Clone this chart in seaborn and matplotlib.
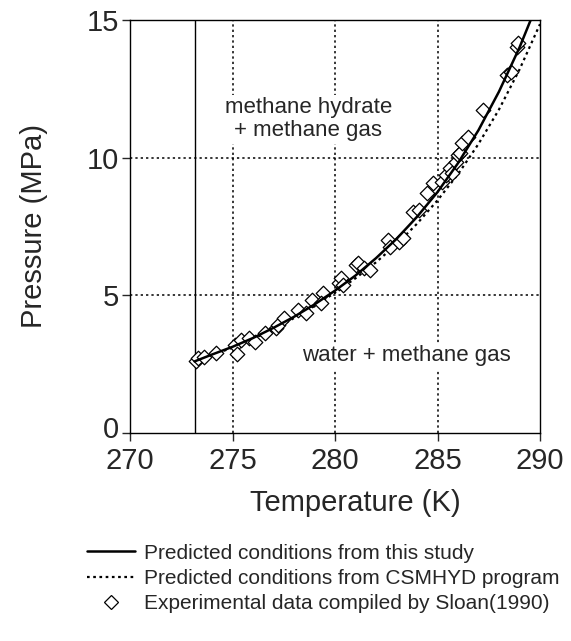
import numpy as np
import pandas as pd
import matplotlib
matplotlib.use("Agg")
import matplotlib.pyplot as plt
import matplotlib.transforms as mtransforms
import seaborn as sns
from matplotlib.lines import Line2D

# ---- data ----
study_T = [273.15, 274, 275, 276, 277, 278, 279, 280, 281, 282, 283, 284, 285, 286, 287, 288, 289, 289.6]
study_P = [2.60, 2.85, 3.13, 3.45, 3.82, 4.22, 4.67, 5.17, 5.72, 6.35, 7.05, 7.85, 8.75, 9.80, 11.0, 12.4, 14.0, 15.1]

csm_T = [273.15, 275, 277, 279, 280, 281, 282, 283, 284, 285, 286, 287, 288, 289, 290]
csm_P = [2.60, 3.10, 3.75, 4.60, 5.10, 5.62, 6.20, 6.85, 7.60, 8.45, 9.40, 10.5, 11.75, 13.2, 14.85]

exp_T = [273.2, 273.3, 273.6, 274.2, 275.1, 275.2, 275.4, 275.8, 276.1, 276.6, 277.1, 277.2,
         277.5, 278.2, 278.6, 278.9, 279.4, 279.3, 280.2, 280.3, 280.4, 281.0, 281.1, 281.4,
         281.7, 282.6, 282.7, 283.1, 283.3, 283.8, 284.1, 284.5, 284.8, 285.2, 285.4, 285.6,
         285.7, 285.9, 286.0, 286.1, 286.2, 286.5, 287.2, 288.4, 288.6, 288.9, 288.95]
exp_P = [2.60, 2.72, 2.76, 2.91, 3.20, 2.88, 3.38, 3.45, 3.31, 3.63, 3.81, 3.92,
         4.18, 4.47, 4.36, 4.83, 5.09, 4.72, 5.45, 5.63, 5.38, 6.10, 6.18, 5.99,
         5.92, 7.01, 6.76, 6.94, 7.08, 8.03, 8.10, 8.72, 9.08, 9.12, 9.37, 9.63,
         9.44, 9.84, 10.10, 10.17, 10.53, 10.75, 11.73, 13.00, 13.11, 14.02, 14.17]

x_ticks = [270, 275, 280, 285, 290]
y_ticks = [0, 5, 10, 15]
legend_labels = ["Predicted conditions from this study",
                 "Predicted conditions from CSMHYD program",
                 "Experimental data compiled by Sloan(1990)"]

study = pd.DataFrame({"T": study_T, "P": study_P})
csm = pd.DataFrame({"T": csm_T, "P": csm_P})
exp = pd.DataFrame({"T": exp_T, "P": exp_P})

sns.set_style("ticks")
plt.rcParams["font.family"] = ["Liberation Sans", "DejaVu Sans"]

fig = plt.figure(figsize=(5.71, 6.41), dpi=100)
ax = fig.add_axes([0.2277, 0.3245, 0.718, 0.6443])

# grid
for xv in [275, 280, 285]:
    ax.axvline(xv, color="black", lw=1.1, ls=(0, (1.5, 2)), zorder=0)
for yv in [5, 10]:
    ax.axhline(yv, color="black", lw=1.1, ls=(0, (1.5, 2)), zorder=0)
# ice point
ax.axvline(273.15, color="black", lw=1.0, zorder=1)

sns.lineplot(data=csm, x="T", y="P", ax=ax, color="black", lw=1.6,
             linestyle=(0, (1.2, 1.6)), zorder=2, sort=False)
sns.scatterplot(data=exp, x="T", y="P", ax=ax, marker="D", s=55,
                facecolor="white", edgecolor="black", linewidth=0.9, zorder=3)
sns.lineplot(data=study, x="T", y="P", ax=ax, color="black", lw=1.8, zorder=4, sort=False)

ax.text(278.7, 11.4, "methane hydrate\n+ methane gas", ha="center", va="center",
        fontsize=16, linespacing=1.1,
        bbox=dict(facecolor="white", edgecolor="none", pad=2), zorder=1.5)
ax.text(283.5, 2.8, "water + methane gas", ha="center", va="center", fontsize=16,
        bbox=dict(facecolor="white", edgecolor="none", pad=2), zorder=1.5)

ax.set_xlim(270, 290)
ax.set_ylim(0, 15)
ax.set_xticks(x_ticks)
ax.set_yticks(y_ticks)
ax.tick_params(axis="both", direction="out", length=6, width=1, labelsize=21, pad=2)
ax.tick_params(axis="x", pad=4)
for s in ax.spines.values():
    s.set_linewidth(1.0)
    s.set_color("black")
ax.set_xlabel("Temperature (K)", fontsize=21, labelpad=14)
ax.xaxis.set_label_coords(0.55, -0.135)
ax.set_ylabel("Pressure (MPa)", fontsize=21, labelpad=28)

# lift the "0" label slightly so it does not collide with "270"
fig.canvas.draw()
zero_lbl = ax.get_yticklabels()[0]
zero_lbl.set_transform(zero_lbl.get_transform() +
                       mtransforms.ScaledTranslation(0, 4 / 72, fig.dpi_scale_trans))

handles = [Line2D([], [], color="black", lw=1.8),
           Line2D([], [], color="black", lw=1.6, linestyle=(0, (1.2, 1.6))),
           Line2D([], [], color="black", lw=0, marker="D", markersize=7,
                  markerfacecolor="white", markeredgewidth=0.9)]
fig.legend(handles, legend_labels, loc="upper left", bbox_to_anchor=(0.153, 0.152),
           frameon=False, fontsize=15, handlelength=2.3, handletextpad=0.4,
           labelspacing=0.3, borderpad=0, borderaxespad=0)

fig.savefig("out.png", dpi=100)
